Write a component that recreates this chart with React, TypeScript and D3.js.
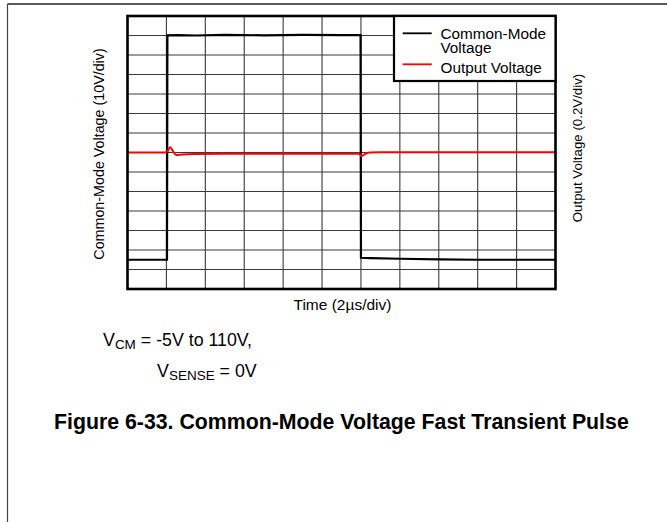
import React from "react";
import * as d3 from "d3";

// Time axis in microseconds (2 µs/div, 11 divisions)
const timeDivs = 11;
const timePerDiv = 2;
// Common-mode voltage axis (10 V/div, 14 divisions)
const cmDomain = [-20, 120];
const cmPerDiv = 10;
// Output voltage axis (0.2 V/div, 14 divisions)
const outDomain = [-1.4, 1.4];

// Common-mode voltage waveform (V)
const cmTime = [0, 2.03, 2.05, 2.6, 3.5, 5, 7, 9, 11, 11.98, 12.0, 12.5, 14, 16, 18, 22];
const cmValue = [-5, -5, 110.1, 110.2, 110.0, 110.3, 110.1, 110.3, 110.2, 110.2, -4.0, -4.2, -4.5, -4.8, -5, -5];

// Output voltage waveform (V)
const outTime = [0, 1.9, 2.05, 2.18, 2.32, 2.5, 2.8, 3.5, 5, 8, 11.9, 12.02, 12.1, 12.25, 12.5, 13, 16, 22];
const outValue = [0, 0, 0.01, 0.053, 0.02, -0.026, -0.02, -0.015, -0.012, -0.012, -0.012, -0.036, -0.03, -0.01, 0.0, 0.003, 0.003, 0.003];

const legendLabels = [["Common-Mode", "Voltage"], ["Output Voltage"]];
const legendColors = ["#000000", "#ff0000"];

const FONT = "'Liberation Sans', Arial, Helvetica, sans-serif";

export default function App() {
  const W = 667;
  const H = 522;
  const left = 127.5;
  const right = 555.5;
  const top = 16;
  const bottom = 289;

  const x = d3.scaleLinear().domain([0, timeDivs * timePerDiv]).range([left, right]);
  const yCm = d3.scaleLinear().domain(cmDomain).range([bottom, top]);
  const yOut = d3.scaleLinear().domain(outDomain).range([bottom, top]);

  const xTicks = d3.range(0, timeDivs * timePerDiv + 0.001, timePerDiv);
  const yTicks = d3.range(cmDomain[0], cmDomain[1] + 0.001, cmPerDiv);

  const cmLine = d3
    .line<number>()
    .x((_, i) => x(cmTime[i]))
    .y((d) => yCm(d));
  const outLine = d3
    .line<number>()
    .x((_, i) => x(outTime[i]))
    .y((d) => yOut(d))
    .curve(d3.curveMonotoneX);

  const legX = 394;
  const legY = top;
  const legW = right - legX;
  const legH = 65;

  return (
    <svg
      width={W}
      height={H}
      style={{ position: "absolute", left: 0, top: 0, background: "#fff" }}
      fontFamily={FONT}
    >
      {/* page frame */}
      <line x1={7.5} y1={4} x2={W} y2={4} stroke="#222" strokeWidth={1.3} />
      <line x1={7.5} y1={4} x2={7.5} y2={H} stroke="#444" strokeWidth={1.2} />

      {/* grid */}
      <g>
        {xTicks.map((t, i) => (
          <line key={"vx" + i} x1={x(t)} x2={x(t)} y1={top} y2={bottom} stroke="#3a3a3a" strokeWidth={1.1} />
        ))}
        {yTicks.map((t, i) => (
          <line key={"hy" + i} x1={left} x2={right} y1={yCm(t)} y2={yCm(t)} stroke="#3a3a3a" strokeWidth={1.1} />
        ))}
      </g>

      {/* traces */}
      <path d={cmLine(cmValue) || ""} fill="none" stroke="#000" strokeWidth={2.2} />
      <path d={outLine(outValue) || ""} fill="none" stroke="#ff0000" strokeWidth={2} />

      {/* plot border */}
      <rect x={left} y={top} width={right - left} height={bottom - top} fill="none" stroke="#000" strokeWidth={2.6} />

      {/* legend */}
      <rect x={legX} y={legY} width={legW} height={legH} fill="#fff" stroke="#000" strokeWidth={2.2} />
      <line x1={402.7} x2={431.7} y1={33.3} y2={33.3} stroke={legendColors[0]} strokeWidth={1.8} />
      <text x={440.5} y={38.5} fontSize={15.3} fill="#000">{legendLabels[0][0]}</text>
      <text x={440.5} y={52.5} fontSize={15.3} fill="#000">{legendLabels[0][1]}</text>
      <line x1={402.7} x2={431.7} y1={64.3} y2={64.3} stroke={legendColors[1]} strokeWidth={1.8} />
      <text x={440.5} y={72.5} fontSize={15.3} fill="#000">{legendLabels[1][0]}</text>

      {/* axis titles */}
      <text x={342.5} y={310} fontSize={15.5} textAnchor="middle" fill="#000">
        Time (2µs/div)
      </text>
      <text transform="translate(104,154) rotate(-90)" fontSize={14.3} textAnchor="middle" fill="#000">
        Common-Mode Voltage (10V/div)
      </text>
      <text transform="translate(582,148) rotate(-90)" fontSize={13.3} textAnchor="middle" fill="#000">
        Output Voltage (0.2V/div)
      </text>

      {/* conditions */}
      <text x={103} y={346} fontSize={17.8} fill="#000">
        V<tspan fontSize={13.5} dy={3}>CM</tspan>
        <tspan dy={-3}> = -5V to 110V,</tspan>
      </text>
      <text x={157} y={377} fontSize={17.8} fill="#000">
        V<tspan fontSize={13.5} dy={3}>SENSE</tspan>
        <tspan dy={-3}> = 0V</tspan>
      </text>

      {/* caption */}
      <text x={54} y={429} fontSize={21.3} fontWeight="bold" fill="#000">
        Figure 6-33. Common-Mode Voltage Fast Transient Pulse
      </text>
    </svg>
  );
}
